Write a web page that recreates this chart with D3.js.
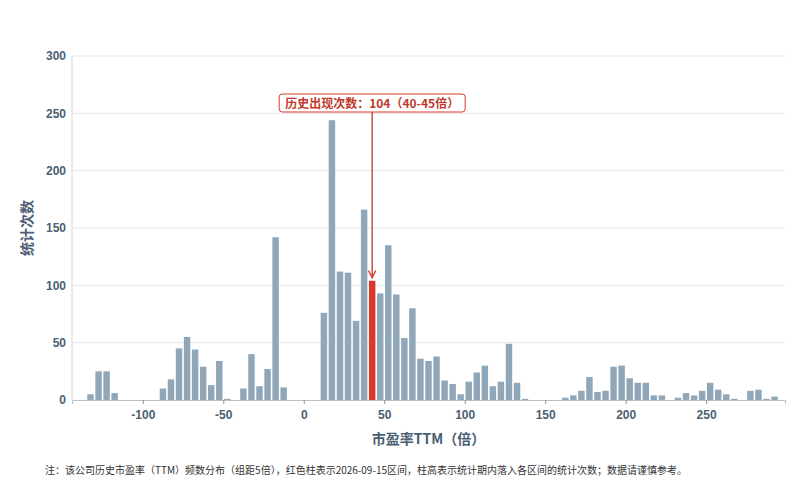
<!DOCTYPE html>
<html><head><meta charset="utf-8">
<script src="https://cdn.jsdelivr.net/npm/d3@7"></script>
<style>body{margin:0;background:#fff;font-family:"Noto Sans CJK SC","Noto Sans",sans-serif}</style>
</head><body><svg id="c" width="808" height="500"></svg>
<script>
const binStart = -135;
const binWidth = 5;
const counts = [5,25,25,6,0,0,0,0,0,10,18,45,55,44,29,13,34,1,0,10,40,12,27,142,11,0,0,0,0,76,244,112,111,69,166,104,93,135,92,54,80,36,34,38,17,14,5,16,24,30,12,16,49,15,1,0,0,0,0,2,4,8,20,7,8,29,30,19,15,15,4,4,0,2,6,4,8,15,9,5,1,0,8,9,1,3];
const highlightStart = 40;
const yTicks = [0,50,100,150,200,250,300];
const xTicks = [-100,-50,0,50,100,150,200,250];
const data = counts.map((v,i)=>({x0:binStart+i*binWidth,v}));

const svg = d3.select("#c");
const m = {l:72,r:785,t:56,b:400};
const x = d3.scaleLinear().domain([-144,299]).range([m.l,m.r]);
const y = d3.scaleLinear().domain([0,300]).range([m.b,m.t]);
const tc = "#4a5f73";

svg.append("g").selectAll("line").data(yTicks.slice(1)).join("line")
 .attr("x1",m.l).attr("x2",m.r).attr("y1",d=>y(d)).attr("y2",d=>y(d))
 .attr("stroke","#e3e6ea").attr("stroke-width",1);
svg.append("line").attr("x1",m.l).attr("x2",m.l).attr("y1",m.t).attr("y2",m.b).attr("stroke","#d0d5da");

svg.append("g").selectAll("rect").data(data.filter(d=>d.v>0)).join("rect")
 .attr("x",d=>x(d.x0)+0.8).attr("width",d=>x(d.x0+binWidth)-x(d.x0)-1.6)
 .attr("y",d=>y(d.v)).attr("height",d=>y(0)-y(d.v))
 .attr("fill",d=>d.x0===highlightStart?"#d93a2b":"#8fa7b9");

const xa = svg.append("g").attr("transform",`translate(0,${m.b})`)
 .call(d3.axisBottom(x).tickValues(xTicks).tickSize(4).tickFormat(d=>String(d)));
xa.select(".domain").attr("stroke","#b8c0c8");
xa.selectAll("line").attr("stroke","#8a96a2");
xa.selectAll("text").attr("fill",tc).attr("font-size",12).attr("font-weight","bold").attr("dy","1em");
const ya = svg.append("g").attr("transform",`translate(${m.l},0)`)
 .call(d3.axisLeft(y).tickValues(yTicks).tickSize(0).tickPadding(6));
ya.select(".domain").remove();
ya.selectAll("text").attr("fill",tc).attr("font-size",12).attr("font-weight","bold");

svg.append("text").attr("transform","translate(32,228) rotate(-90)").attr("text-anchor","middle")
 .attr("fill",tc).attr("font-size",14).attr("font-weight","bold").text("统计次数");
svg.append("text").attr("x",(m.l+m.r)/2).attr("y",444).attr("text-anchor","middle")
 .attr("fill",tc).attr("font-size",14).attr("font-weight","bold").text("市盈率TTM（倍）");
svg.append("text").attr("x",45).attr("y",474).attr("fill","#333").attr("font-size",10)
 .text("注：该公司历史市盈率（TTM）频数分布（组距5倍），红色柱表示2026-09-15区间，柱高表示统计期内落入各区间的统计次数；数据请谨慎参考。");

const hv = data.find(d=>d.x0===highlightStart);
const cx = x(hv.x0+binWidth/2);
svg.append("defs").append("marker").attr("id","ar").attr("viewBox","0 0 10 10").attr("refX",9).attr("refY",5)
 .attr("markerWidth",7).attr("markerHeight",7).attr("orient","auto")
 .append("path").attr("d","M1,1L9,5L1,9").attr("fill","none").attr("stroke","#d93a2b").attr("stroke-width",1.5);
svg.append("line").attr("x1",cx).attr("x2",cx).attr("y1",112).attr("y2",y(hv.v)-3)
 .attr("stroke","#c0392b").attr("stroke-width",1.3).attr("marker-end","url(#ar)");
svg.append("rect").attr("x",cx-93).attr("y",94).attr("width",186).attr("height",18).attr("rx",3)
 .attr("fill","#fff").attr("stroke","#d93a2b");
svg.append("text").attr("x",cx).attr("y",107.5).attr("text-anchor","middle").attr("fill","#c0392b")
 .attr("font-size",12).attr("font-weight","bold").text(`历史出现次数：${hv.v}（${hv.x0}-${hv.x0+binWidth}倍）`);
</script></body></html>
